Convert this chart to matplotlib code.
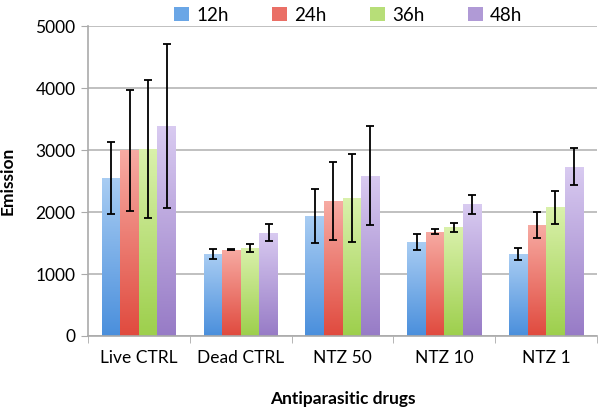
import matplotlib
matplotlib.use("Agg")
import matplotlib.pyplot as plt
import numpy as np
from matplotlib.colors import LinearSegmentedColormap
from matplotlib.patches import Patch

categories = ["Live CTRL", "Dead CTRL", "NTZ 50", "NTZ 10", "NTZ 1"]
series = ["12h", "24h", "36h", "48h"]
vals_12h = [2550, 1320, 1935, 1510, 1320]
vals_24h = [3000, 1395, 2175, 1680, 1790]
vals_36h = [3020, 1425, 2225, 1755, 2080]
vals_48h = [3390, 1670, 2585, 2125, 2730]
err_12h = [585, 83, 435, 128, 95]
err_24h = [975, 10, 625, 40, 210]
err_36h = [1115, 62, 715, 72, 265]
err_48h = [1320, 140, 800, 158, 298]

values = [vals_12h, vals_24h, vals_36h, vals_48h]
errors = [err_12h, err_24h, err_36h, err_48h]
# (bottom colour, top colour)
grads = [("#4a8fdc", "#a9cdf3"), ("#e04a3e", "#f7aba3"),
         ("#9dcf4c", "#daf1ac"), ("#977bc6", "#d9cbf1")]
legend_cols = ["#6aa6e6", "#ea6f66", "#b7de78", "#b09ad6"]

plt.rcParams['font.family'] = ['Lato', 'DejaVu Sans']
fig = plt.figure(figsize=(6, 4.09), dpi=100)
ax = fig.add_axes([0.1467, 0.1785, 0.995 - 0.1467, 0.936 - 0.1785])

x = np.arange(len(categories))
w = 0.182
for i, (vals, errs) in enumerate(zip(values, errors)):
    pos = x + (i - 1.5) * w
    bars = ax.bar(pos, vals, w, color="none", edgecolor="none", zorder=2)
    cmap = LinearSegmentedColormap.from_list("g%d" % i, [grads[i][0], grads[i][1]])
    for b in bars:
        x0 = b.get_x(); h = b.get_height()
        grad = np.linspace(0, 1, 256).reshape(-1, 1)
        im = ax.imshow(grad, cmap=cmap, aspect="auto", origin="lower",
                       extent=[x0, x0 + w, 0, h], zorder=2)
        im.set_clip_path(b)
    ax.errorbar(pos, vals, yerr=errs, fmt="none", ecolor="black",
                elinewidth=1.3, capsize=3, capthick=1.3, zorder=3)

ax.set_xlim(-0.5, len(categories) - 0.5)
ax.set_ylim(0, 5000)
ax.set_yticks(range(0, 5001, 1000))
ax.yaxis.grid(True, color="#b5b5b5", linewidth=1.2, zorder=0)
ax.set_axisbelow(True)
ax.set_xticks(x)
ax.set_xticklabels(categories, fontsize=12.5)
ax.set_xticks(np.arange(-0.5, len(categories), 1), minor=True)
ax.tick_params(axis="x", which="major", length=0, pad=10)
ax.tick_params(axis="x", which="minor", length=5, color="#aaaaaa")
ax.tick_params(axis="y", length=5, color="#aaaaaa", labelsize=12.5, pad=4)
for s in ["top", "right"]:
    ax.spines[s].set_visible(False)
for s in ["left", "bottom"]:
    ax.spines[s].set_color("#aaaaaa")
    ax.spines[s].set_linewidth(1.2)

ax.set_xlabel("Antiparasitic drugs", fontsize=12.5, fontweight="bold", labelpad=18)
ax.set_ylabel("Emission", fontsize=12.5, fontweight="bold", labelpad=14)

handles = [Patch(facecolor=c, edgecolor="none") for c in legend_cols]
fig.legend(handles, series, loc="upper center", bbox_to_anchor=(0.58, 1.025),
           ncol=4, frameon=False, fontsize=13.5, handlelength=0.8, handleheight=0.8,
           handletextpad=0.4, columnspacing=2.3)

fig.savefig("out.png", dpi=100)
